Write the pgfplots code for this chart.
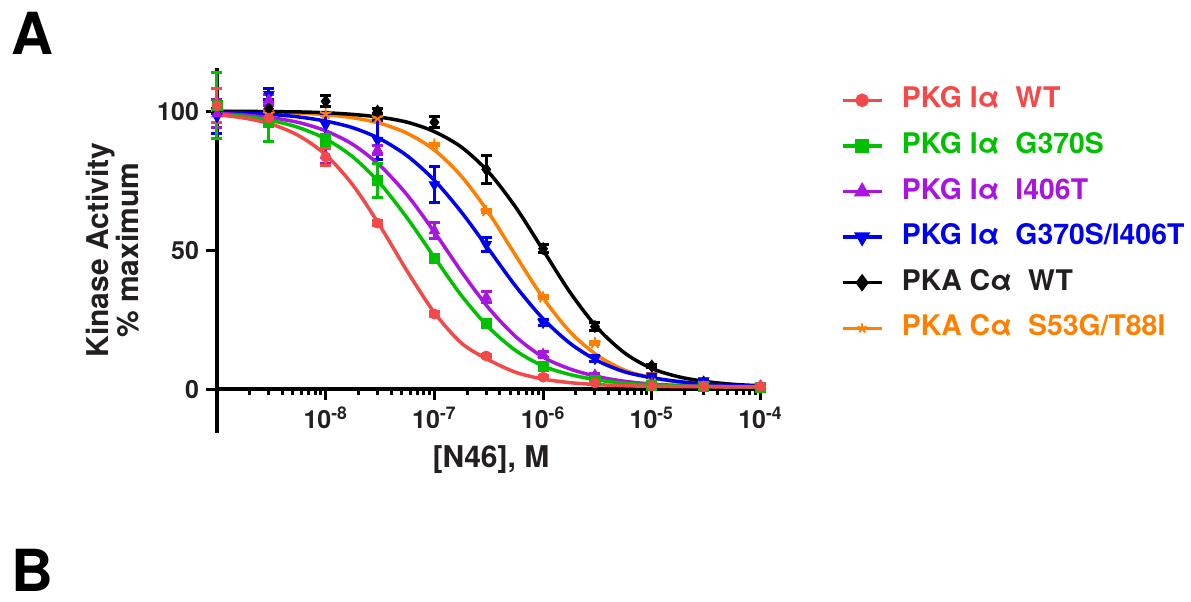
\documentclass[border=0pt]{standalone}
\usepackage{fontspec}
\setmainfont{TeX Gyre Heros}
\usepackage{pgfplots}
\pgfplotsset{compat=1.18}
\definecolor{cRed}{RGB}{245,72,72}
\definecolor{cGreen}{RGB}{0,192,0}
\definecolor{cPurple}{RGB}{170,20,225}
\definecolor{cBlue}{RGB}{0,0,240}
\definecolor{cBlack}{RGB}{0,0,0}
\definecolor{cText}{RGB}{35,31,32}
\definecolor{cOrange}{RGB}{255,128,0}
\pgfplotsset{
  curve/.style={line width=1.75pt, smooth, no marks},
  pts/.style={only marks, forget plot, mark size=2.5pt,
    error bars/y dir=both, error bars/y explicit,
    error bars/error bar style={line width=1.5pt},
    error bars/error mark options={rotate=90, mark size=2.75pt, line width=1.5pt}},
}
\begin{document}
\begin{tikzpicture}
\path[use as bounding box] (-108.5pt,-84pt) rectangle (487pt,216.5pt);
\node[inner sep=0pt, font=\fontsize{29}{29}\selectfont\bfseries] at (-92.5pt,200pt) {A};
\node[inner sep=0pt, font=\fontsize{29}{29}\selectfont\bfseries] at (-92.5pt,-68.5pt) {B};
\begin{semilogxaxis}[
    scale only axis, width=274pt, height=182.5pt,
    xmin=1e-9, xmax=1.1e-4, ymin=-15.8, ymax=115.5,
    clip=false,
    axis x line*=middle, axis y line*=left,
    hide obscured x ticks=false, hide obscured y ticks=false,
    axis line style={line width=2pt, black},
    tick style={line width=1.5pt, black},
    tick align=outside,
    major tick length=5.5pt, minor tick length=3pt,
    xtick={1e-8,1e-7,1e-6,1e-5,1e-4},
    xticklabels={10\textsuperscript{-8},10\textsuperscript{-7},10\textsuperscript{-6},10\textsuperscript{-5},10\textsuperscript{-4}},
    minor xtick={2e-9,3e-9,4e-9,5e-9,6e-9,7e-9,8e-9,9e-9,
                 2e-8,3e-8,4e-8,5e-8,6e-8,7e-8,8e-8,9e-8,
                 2e-7,3e-7,4e-7,5e-7,6e-7,7e-7,8e-7,9e-7,
                 2e-6,3e-6,4e-6,5e-6,6e-6,7e-6,8e-6,9e-6,
                 2e-5,3e-5,4e-5,5e-5,6e-5,7e-5,8e-5,9e-5},
    ytick={0,50,100}, yticklabels={0,50,100},
    ticklabel style={font=\fontsize{12.5}{12.5}\selectfont\bfseries, text=cText},
    xlabel={[N46], M},
    xlabel style={at={(axis description cs:0.5,-0.094)}, anchor=base,
      font=\fontsize{15}{15}\selectfont\bfseries, text=cText},
    ylabel={Kinase Activity\\\% maximum},
    ylabel style={at={(axis description cs:-0.19,0.501)}, anchor=center, align=center,
      font=\fontsize{15}{15}\selectfont\bfseries, text=cText},
    reverse legend,
    legend cell align=left,
    legend image code/.code={\draw[mark repeat=2,mark phase=2,#1] plot coordinates {(0pt,0pt) (9.5pt,0pt) (19pt,0pt)};},
    legend style={draw=none, fill=none, at={(axis description cs:1.1387,0.9496)}, anchor=north west,
      font=\fontsize{14.2}{14.2}\selectfont\bfseries, inner sep=0pt,
      nodes={inner sep=0pt, text height=10.5pt, text depth=3pt},
      row sep=9.3pt, column sep=9.5pt},
]
% PKA Ca S53G/T88I
\addplot[curve, cOrange, legend image post style={mark=star, mark size=2.5pt, mark options={line width=1pt}}] coordinates {
 (1e-9,99.9) (1.778e-9,99.8) (3.162e-9,99.6) (5.623e-9,99.3) (1e-8,98.7) (1.778e-8,97.6)
 (3.162e-8,95.6) (5.623e-8,92.0) (1e-7,86.0) (1.778e-7,76.5) (3.162e-7,63.4) (5.623e-7,47.9)
 (1e-6,32.8) (1.778e-6,20.5) (3.162e-6,12.1) (5.623e-6,6.8) (1e-5,4.1) (1.778e-5,2.5)
 (3.162e-5,1.6) (5.623e-5,1.2) (1e-4,1.0)};
\addlegendentry{\textcolor{cOrange}{PKA Cα\ \ S53G/T88I}}
\addplot[pts, cOrange, mark=star, mark size=3pt, mark options={line width=1pt}] coordinates {
 (1e-9,100) +- (0,0.5) (3e-9,99) +- (0,0.5) (1e-8,99) +- (0,0.5) (3e-8,97.5) +- (0,0.5)
 (1e-7,88) +- (0,0.5) (3e-7,64) +- (0,0.5) (1e-6,33) +- (0,0.5) (3e-6,16.5) +- (0,0.5)
 (1e-5,5) +- (0,0.5) (3e-5,2) +- (0,0.5) (1e-4,1) +- (0,0.5)};
% PKA Ca WT
\addplot[curve, cBlack, legend image post style={mark=diamond*, mark size=3pt}] coordinates {
 (1e-9,99.95) (1.778e-9,99.9) (3.162e-9,99.8) (5.623e-9,99.7) (1e-8,99.4) (1.778e-8,98.8)
 (3.162e-8,97.8) (5.623e-8,96.0) (1e-7,92.6) (1.778e-7,87.0) (3.162e-7,78.0) (5.623e-7,65.3)
 (1e-6,50.0) (1.778e-6,34.7) (3.162e-6,22.0) (5.623e-6,13.0) (1e-5,7.4) (1.778e-5,4.4)
 (3.162e-5,2.7) (5.623e-5,1.7) (1e-4,1.2)};
\addlegendentry{\textcolor{cText}{PKA Cα\ \ WT}}
\addplot[pts, cBlack, mark=diamond*, mark size=3pt] coordinates {
 (1e-9,100) +- (0,1) (3e-9,101) +- (0,1) (1e-8,103.5) +- (0,2) (3e-8,100) +- (0,1)
 (1e-7,96) +- (0,2) (3e-7,79) +- (0,5) (1e-6,50.5) +- (0,1.5) (3e-6,22.5) +- (0,1.5)
 (1e-5,8.3) +- (0,0.5) (3e-5,2.5) +- (0,0.5) (1e-4,1) +- (0,0.5)};
% PKG Ia G370S/I406T
\addplot[curve, cBlue, legend image post style={mark=triangle*, mark size=3pt, mark options={rotate=180}}] coordinates {
 (1e-9,99.6) (1.778e-9,99.3) (3.162e-9,98.8) (5.623e-9,97.9) (1e-8,96.4) (1.778e-8,94.0)
 (3.162e-8,90.0) (5.623e-8,83.9) (1e-7,75.1) (1.778e-7,63.6) (3.162e-7,50.3) (5.623e-7,36.9)
 (1e-6,25.3) (1.778e-6,16.4) (3.162e-6,10.2) (5.623e-6,6.2) (1e-5,4.1) (1.778e-5,2.7)
 (3.162e-5,1.8) (5.623e-5,1.3) (1e-4,1.0)};
\addlegendentry{\textcolor{cBlue}{PKG Iα\ \ G370S/I406T}}
\addplot[pts, cBlue, mark=triangle*, mark size=3pt, mark options={rotate=180}] coordinates {
 (1e-9,98) +- (0,6) (3e-9,106) +- (0,2) (1e-8,95) +- (0,4) (3e-8,89.5) +- (0,7)
 (1e-7,73.5) +- (0,6.5) (3e-7,52) +- (0,2.5) (1e-6,24) +- (0,1) (3e-6,11) +- (0,1)
 (1e-5,4.7) +- (0,0.5) (3e-5,3) +- (0,0.5) (1e-4,1) +- (0,0.5)};
% PKG Ia I406T
\addplot[curve, cPurple, legend image post style={mark=triangle*, mark size=3pt}] coordinates {
 (1e-9,99.2) (1.778e-9,98.6) (3.162e-9,97.6) (5.623e-9,95.9) (1e-8,92.9) (1.778e-8,88.0)
 (3.162e-8,80.4) (5.623e-8,69.8) (1e-7,56.5) (1.778e-7,42.2) (3.162e-7,29.1) (5.623e-7,18.8)
 (1e-6,11.5) (1.778e-6,7.2) (3.162e-6,4.5) (5.623e-6,2.8) (1e-5,1.8) (1.778e-5,1.3)
 (3.162e-5,1.0) (5.623e-5,0.9) (1e-4,0.8)};
\addlegendentry{\textcolor{cPurple}{PKG Iα\ \ I406T}}
\addplot[pts, cPurple, mark=triangle*, mark size=3pt] coordinates {
 (1e-9,99) +- (0,5) (3e-9,104) +- (0,2) (1e-8,84) +- (0,3) (3e-8,86) +- (0,1.5)
 (1e-7,57) +- (0,3) (3e-7,33) +- (0,2) (1e-6,12.5) +- (0,1) (3e-6,5) +- (0,0.5)
 (1e-5,2) +- (0,0.5) (3e-5,1) +- (0,0.5) (1e-4,1) +- (0,0.5)};
% PKG Ia G370S
\addplot[curve, cGreen, legend image post style={mark=square*, mark size=2.5pt}] coordinates {
 (1e-9,98.9) (1.778e-9,98.1) (3.162e-9,96.6) (5.623e-9,94.1) (1e-8,90.0) (1.778e-8,83.5)
 (3.162e-8,74.0) (5.623e-8,61.5) (1e-7,47.4) (1.778e-7,33.6) (3.162e-7,22.2) (5.623e-7,13.8)
 (1e-6,8.3) (1.778e-6,5.2) (3.162e-6,3.3) (5.623e-6,2.1) (1e-5,1.5) (1.778e-5,1.1)
 (3.162e-5,0.9) (5.623e-5,0.8) (1e-4,0.7)};
\addlegendentry{\textcolor{cGreen}{PKG Iα\ \ G370S}}
\addplot[pts, cGreen, mark=square*, mark size=2.5pt] coordinates {
 (1e-9,102) +- (0,12) (3e-9,96) +- (0,7) (1e-8,89.6) +- (0,2) (3e-8,75) +- (0,6)
 (1e-7,47) +- (0,1) (3e-7,23.5) +- (0,1) (1e-6,8) +- (0,0.5) (3e-6,3) +- (0,0.5)
 (1e-5,1.5) +- (0,0.5) (3e-5,1) +- (0,0.5) (1e-4,0.5) +- (0,0.5)};
% PKG Ia WT
\addplot[curve, cRed, legend image post style={mark=*, mark size=2.5pt}] coordinates {
 (1e-9,98.7) (1.778e-9,97.5) (3.162e-9,95.3) (5.623e-9,91.2) (1e-8,84.3) (1.778e-8,73.4)
 (3.162e-8,58.7) (5.623e-8,42.4) (1e-7,27.5) (1.778e-7,16.5) (3.162e-7,10.5) (5.623e-7,6.0)
 (1e-6,3.6) (1.778e-6,2.3) (3.162e-6,1.6) (5.623e-6,1.2) (1e-5,1.0) (1.778e-5,0.9)
 (3.162e-5,0.85) (5.623e-5,0.8) (1e-4,0.8)};
\addlegendentry{\textcolor{cRed}{PKG Iα\ \ WT}}
\addplot[pts, cRed, mark=*, mark size=2.5pt] coordinates {
 (1e-9,102) +- (0,6) (3e-9,97.5) +- (0,3) (1e-8,83.5) +- (0,3) (3e-8,59.7) +- (0,1)
 (1e-7,27) +- (0,1) (3e-7,11.9) +- (0,0.5) (1e-6,4.3) +- (0,0.5) (3e-6,2.2) +- (0,0.5)
 (1e-5,1.2) +- (0,0.5) (3e-5,1) +- (0,0.5) (1e-4,1) +- (0,0.5)};
\end{semilogxaxis}
\end{tikzpicture}
\end{document}
